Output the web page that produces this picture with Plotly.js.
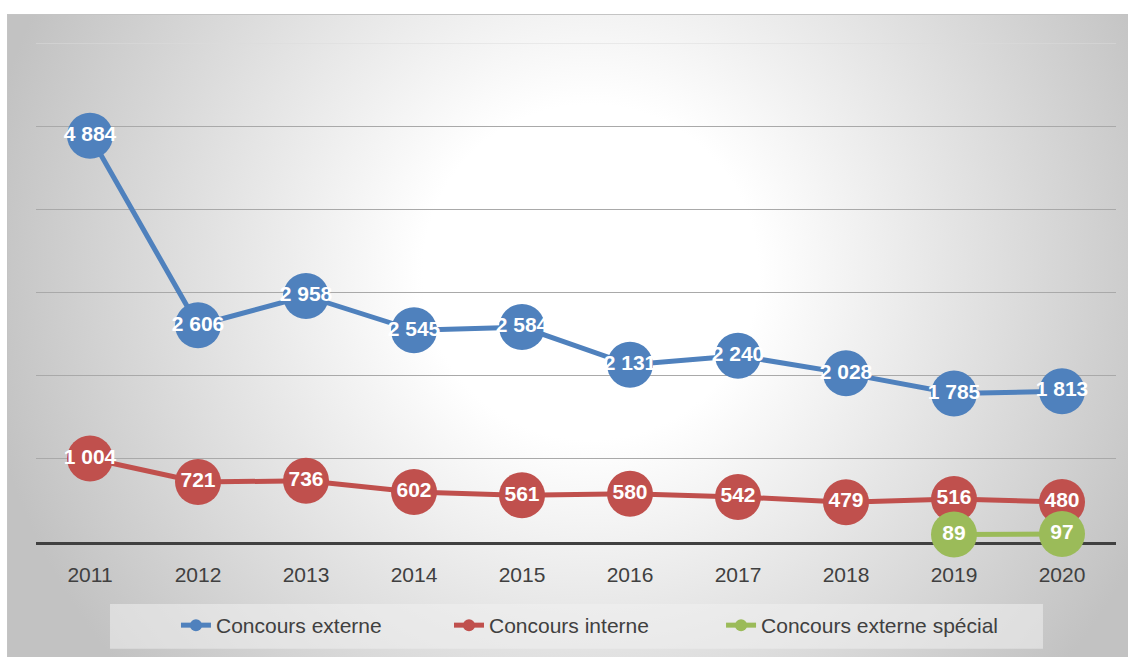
<!DOCTYPE html>
<html>
<head>
<meta charset="utf-8">
<script src="https://cdn.plot.ly/plotly-3.0.1.min.js"></script>
<style>
  html, body { margin: 0; padding: 0; background: #ffffff; }
  #frame {
    position: absolute; left: 7px; top: 14px; width: 1120px; height: 643px;
    border-top: 1px solid #c4c4c4; border-left: 1px solid #c4c4c4;
    background: radial-gradient(circle farthest-corner at 52% 40%, #ffffff 0%, #ffffff 24%, #c2c2c2 88%);
  }
  #chart { position: absolute; left: 0; top: 0; width: 1134px; height: 657px; }
</style>
</head>
<body>
<div id="frame"></div>
<div id="chart"></div>
<script>
const years = ['2011','2012','2013','2014','2015','2016','2017','2018','2019','2020'];
const concoursExterne = [4884, 2606, 2958, 2545, 2584, 2131, 2240, 2028, 1785, 1813];
const concoursInterne = [1004, 721, 736, 602, 561, 580, 542, 479, 516, 480];
const concoursExterneSpecial = [null, null, null, null, null, null, null, null, 89, 97];
const seriesNames = ['Concours externe', 'Concours interne', 'Concours externe spécial'];
const seriesColors = ['#4f81bd', '#c0504d', '#9bbb59'];

const legendIds = ['legend', 'legend2', 'legend3'];
const legendX = [0.1296, 0.3824, 0.6343];

const seriesValues = [concoursExterne, concoursInterne, concoursExterneSpecial];
const traces = seriesValues.map((vals, i) => ({
  type: 'scatter',
  mode: 'lines+markers+text',
  name: seriesNames[i],
  legend: legendIds[i],
  x: years,
  y: vals,
  connectgaps: false,
  line: { color: seriesColors[i], width: 5 },
  marker: { color: seriesColors[i], size: 46, symbol: 'circle' },
  texttemplate: '%{y:,}',
  textposition: 'middle center',
  textfont: { family: 'Liberation Sans, Arial, sans-serif', size: 21, color: '#ffffff', weight: 'bold' },
  cliponaxis: false,
  hoverinfo: 'x+y+name'
}));

const layout = {
  width: 1134,
  height: 657,
  margin: { l: 36, r: 18, t: 43, b: 114 },
  paper_bgcolor: 'rgba(0,0,0,0)',
  plot_bgcolor: 'rgba(0,0,0,0)',
  separators: ', ',
  showlegend: true,
  font: { family: 'Liberation Sans, Arial, sans-serif', color: '#404040', size: 21 },
  xaxis: {
    type: 'category',
    range: [-0.5, 9.5],
    showgrid: false,
    zeroline: false,
    showline: true,
    linecolor: '#404040',
    linewidth: 3,
    layer: 'below traces',
    ticks: 'outside',
    ticklen: 12,
    tickcolor: 'rgba(0,0,0,0)',
    tickfont: { size: 21, color: '#404040' },
    fixedrange: true
  },
  yaxis: {
    range: [0, 6000],
    tickvals: [1000, 2000, 3000, 4000, 5000],
    showticklabels: false,
    showgrid: true,
    gridcolor: '#a9a9a9',
    gridwidth: 1,
    zeroline: false,
    showline: false,
    fixedrange: true
  },
  shapes: [
    {
      type: 'line', xref: 'paper', yref: 'y', x0: 0, x1: 1, y0: 6000, y1: 6000,
      line: { color: '#dcdcdc', width: 1 }, layer: 'below'
    },
    {
      type: 'rect', xref: 'paper', yref: 'paper',
      x0: 0.0685, x1: 0.9324, y0: -0.124, y1: -0.214,
      fillcolor: 'rgba(240,240,240,0.55)', line: { width: 0 }, layer: 'below'
    }
  ]
};

legendIds.forEach((id, i) => {
  layout[id] = {
    orientation: 'h',
    x: legendX[i], xanchor: 'left',
    y: -0.124, yanchor: 'top',
    bgcolor: 'rgba(0,0,0,0)',
    borderwidth: 0,
    itemsizing: 'constant',
    font: { size: 21, color: '#404040' }
  };
});

Plotly.newPlot('chart', traces, layout, { displayModeBar: false, staticPlot: true });
</script>
</body>
</html>
